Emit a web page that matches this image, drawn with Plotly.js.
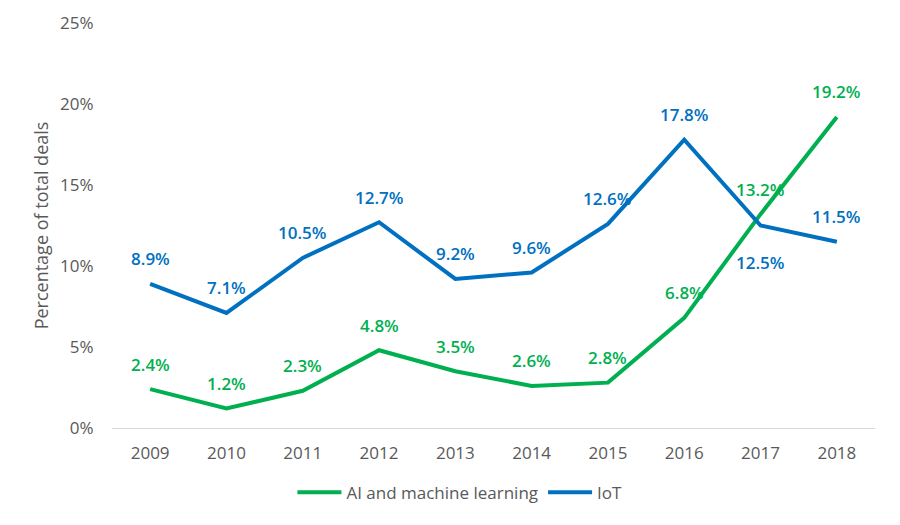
<!DOCTYPE html>
<html><head><meta charset="utf-8">
<script src="https://cdn.plot.ly/plotly-3.0.1.min.js"></script>
<style>body{margin:0}#c{width:900px;height:525px}</style>
</head><body><div id="c"></div>
<script>
const years = ['2009','2010','2011','2012','2013','2014','2015','2016','2017','2018'];
const aiValues = [2.4, 1.2, 2.3, 4.8, 3.5, 2.6, 2.8, 6.8, 13.2, 19.2];
const iotValues = [8.9, 7.1, 10.5, 12.7, 9.2, 9.6, 12.6, 17.8, 12.5, 11.5];
const yTicks = [0, 5, 10, 15, 20, 25];
const yTickLabels = ['0%', '5%', '10%', '15%', '20%', '25%'];

// label placement relative to each point: 'above' or 'below'
const aiPlace = ['above','above','above','above','above','above','above','above','above','above'];
const iotPlace = ['above','above','above','above','above','above','above','above','below','above'];

const green = '#00B050', blue = '#0070C0';
const fmt = v => v.toFixed(1) + '%';
const font = '"Open Sans", sans-serif';

const traces = [
  {x: years, y: aiValues, name: 'AI and machine learning', type: 'scatter', mode: 'lines',
   line: {color: green, width: 4}, cliponaxis: false},
  {x: years, y: iotValues, name: 'IoT', type: 'scatter', mode: 'lines',
   line: {color: blue, width: 4}, cliponaxis: false}
];

const annotations = [];
function addLabels(vals, place, color) {
  vals.forEach((v, i) => {
    // category axis: position by category index
    annotations.push({x: i, y: v, xref: 'x', yref: 'y', text: fmt(v), showarrow: false,
      yshift: place[i] === 'above' ? 25 : -37,
      font: {color: color, size: 17, family: font, weight: 600}});
  });
}
addLabels(aiValues, aiPlace, green);
addLabels(iotValues, iotPlace, blue);

const layout = {
  width: 900, height: 525,
  margin: {l: 112, r: 25, t: 23, b: 97},
  paper_bgcolor: '#fff', plot_bgcolor: '#fff',
  font: {family: font, color: '#595959', size: 17},
  showlegend: true,
  legend: {orientation: 'h', x: 0.456, xanchor: 'center', y: -0.16, yanchor: 'middle',
           font: {size: 17, color: '#595959'}, traceorder: 'normal', itemwidth: 44},
  annotations: annotations,
  xaxis: {type: 'category', range: [-0.5, 9.5], showgrid: false, zeroline: false,
          showline: true, linecolor: '#D9D9D9', linewidth: 1,
          ticks: 'outside', ticklen: 10, tickcolor: 'rgba(0,0,0,0)',
          tickfont: {size: 17, color: '#595959'}},
  yaxis: {range: [0, 25], tickvals: yTicks, ticktext: yTickLabels, showgrid: false,
          zeroline: false, showline: false,
          ticks: 'outside', ticklen: 14, tickcolor: 'rgba(0,0,0,0)',
          tickfont: {size: 17, color: '#595959'},
          title: {text: 'Percentage of total deals', font: {size: 18, color: '#595959'}, standoff: 6}}
};

Plotly.newPlot('c', traces, layout, {displayModeBar: false, staticPlot: true});
</script></body></html>
